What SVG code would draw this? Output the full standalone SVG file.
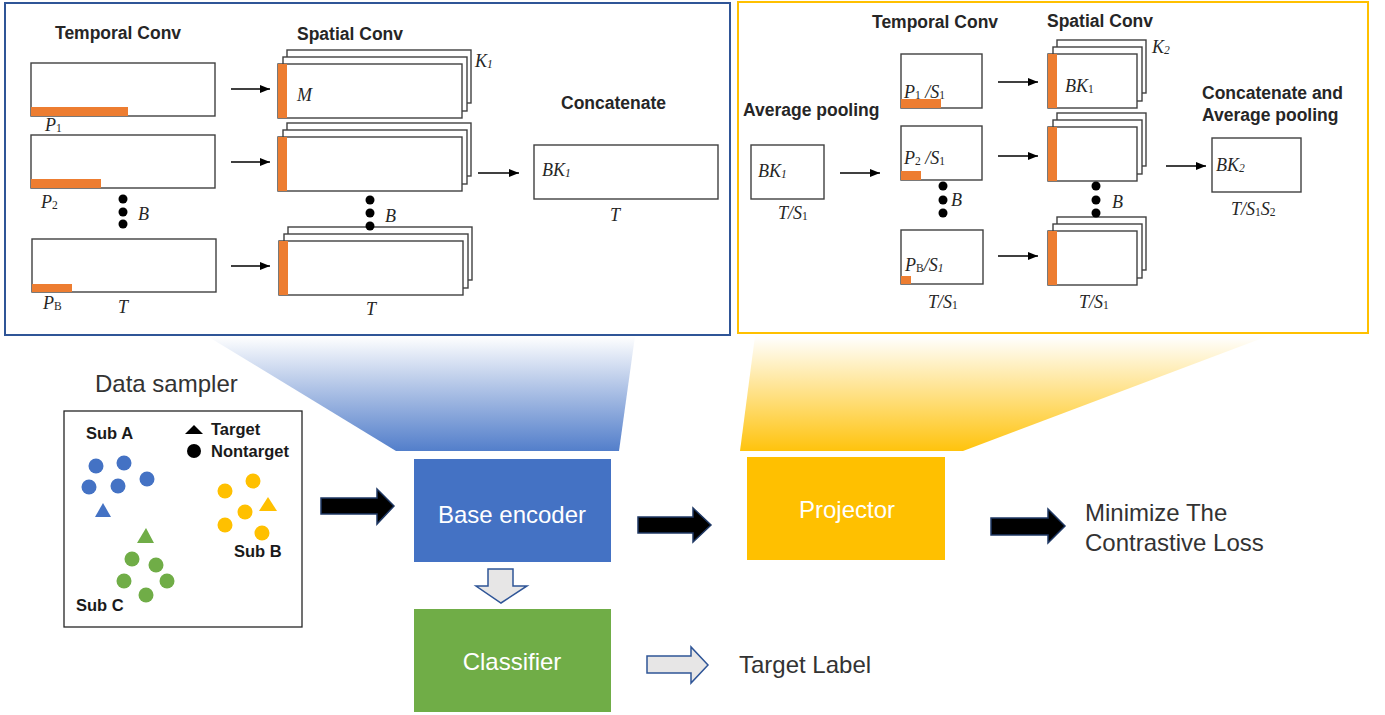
<svg xmlns="http://www.w3.org/2000/svg" width="1385" height="715" viewBox="0 0 1385 715">
<style>
.box{fill:#fff;stroke:#404040;stroke-width:1.4}
.or{fill:#ED7D31}
.ttl{font-family:"Liberation Sans",Arial,sans-serif;font-weight:bold;font-size:17.5px;fill:#262626}
.m{font-family:"Liberation Serif","Times New Roman",serif;font-style:italic;font-size:18px;fill:#262626}
.s{font-size:11.5px;font-style:normal}
.si{font-size:11.5px}
.lbl{font-family:"Liberation Sans",Arial,sans-serif;font-size:24px;fill:#333}
.wt{font-family:"Liberation Sans",Arial,sans-serif;font-size:24px;fill:#fff;text-anchor:middle}
.sub{font-family:"Liberation Sans",Arial,sans-serif;font-weight:bold;font-size:16.5px;fill:#1a1a1a}
.ln{stroke:#000;stroke-width:1.3;fill:none;marker-end:url(#ah)}
.dot{fill:#000}
.blk{fill:#000;stroke:#1F3864;stroke-width:1.5;stroke-linejoin:miter}
.hol{fill:#E7E6E6;stroke:#2F5597;stroke-width:1.5;stroke-linejoin:miter}
</style>
<defs>
<marker id="ah" markerUnits="userSpaceOnUse" markerWidth="10" markerHeight="8" refX="10" refY="4" orient="auto">
<path d="M0,0 L10,4 L0,8 z" fill="#000"/>
</marker>
<linearGradient id="gb" x1="0" y1="0" x2="0" y2="1">
<stop offset="0" stop-color="#4472C4" stop-opacity="0"/>
<stop offset="1" stop-color="#4A78C8" stop-opacity="0.95"/>
</linearGradient>
<linearGradient id="gy" x1="0" y1="0" x2="0" y2="1">
<stop offset="0" stop-color="#FFC000" stop-opacity="0"/>
<stop offset="1" stop-color="#FFC000" stop-opacity="0.95"/>
</linearGradient>
</defs>

<!-- zoom wedges linking the encoder/projector to their detail panels -->
<polygon id="wedge-encoder" points="207,336 635,336 619,451 396,451" fill="url(#gb)"/>
<polygon id="wedge-projector" points="755,336 1268,336 963,451 740,451" fill="url(#gy)"/>

<!-- base encoder detail -->
<g id="encoder-panel">
<rect x="5" y="3" width="725" height="332" fill="#fff" stroke="#2F5597" stroke-width="2"/>
<text class="ttl" x="55" y="39">Temporal Conv</text>
<text class="ttl" x="297" y="40">Spatial Conv</text>
<text class="ttl" x="561" y="109">Concatenate</text>

<g id="tconv-1">
<rect class="box" x="31" y="63" width="184" height="53"/>
<rect class="or" x="31" y="107" width="97" height="9"/>
<text class="m" x="45" y="131">P<tspan class="s" dy="1">1</tspan></text>
</g>
<g id="tconv-2">
<rect class="box" x="31" y="135" width="184" height="53"/>
<rect class="or" x="31" y="179" width="70" height="9"/>
<text class="m" x="41" y="208">P<tspan class="s" dy="1">2</tspan></text>
</g>
<g id="tconv-b">
<rect class="box" x="32" y="239" width="184" height="53"/>
<rect class="or" x="32" y="284" width="40" height="8"/>
<text class="m" x="43" y="309">P<tspan class="s" dy="1">B</tspan></text>
<text class="m" x="118" y="313">T</text>
</g>
<circle class="dot" cx="123" cy="199" r="4.5"/>
<circle class="dot" cx="123" cy="212" r="4.5"/>
<circle class="dot" cx="123" cy="224" r="4.5"/>
<text class="m" x="138" y="220">B</text>

<g id="sconv-1">
<rect class="box" x="287" y="50" width="184" height="53"/>
<rect class="box" x="283" y="57" width="184" height="54"/>
<rect class="box" x="278" y="64" width="184" height="54"/>
<rect class="or" x="278" y="64" width="9" height="54"/>
<text class="m" x="297" y="101">M</text>
<text class="m" x="475" y="67">K<tspan class="si" dy="1">1</tspan></text>
</g>
<g id="sconv-2">
<rect class="box" x="287" y="123" width="184" height="53"/>
<rect class="box" x="283" y="130" width="184" height="54"/>
<rect class="box" x="278" y="137" width="184" height="54"/>
<rect class="or" x="278" y="137" width="9" height="54"/>
</g>
<g id="sconv-b">
<rect class="box" x="288" y="227" width="184" height="53"/>
<rect class="box" x="284" y="234" width="184" height="54"/>
<rect class="box" x="279" y="241" width="184" height="54"/>
<rect class="or" x="279" y="241" width="9" height="54"/>
<text class="m" x="366" y="315">T</text>
</g>
<circle class="dot" cx="370" cy="200" r="4.5"/>
<circle class="dot" cx="370" cy="213" r="4.5"/>
<circle class="dot" cx="370" cy="226" r="4.5"/>
<text class="m" x="385" y="222">B</text>

<g id="concat-1">
<rect class="box" x="534" y="145" width="184" height="54"/>
<text class="m" x="542" y="176">BK<tspan class="si" dy="1">1</tspan></text>
<text class="m" x="610" y="221">T</text>
</g>
</g>

<!-- projector detail -->
<g id="projector-panel">
<rect x="738" y="2" width="630" height="331" fill="#fff" stroke="#FFC000" stroke-width="2"/>
<text class="ttl" x="872" y="28">Temporal Conv</text>
<text class="ttl" x="1047" y="27">Spatial Conv</text>
<text class="ttl" x="743" y="116">Average pooling</text>
<text class="ttl" x="1202" y="99">Concatenate and</text>
<text class="ttl" x="1202" y="121">Average pooling</text>

<g id="pool-in">
<rect class="box" x="751" y="145" width="73" height="54"/>
<text class="m" x="758" y="177">BK<tspan class="si" dy="1">1</tspan></text>
<text class="m" x="778" y="219">T/S<tspan class="s" dy="1">1</tspan></text>
</g>

<g id="ptconv-1">
<rect class="box" x="901" y="54" width="81" height="54"/>
<rect class="or" x="901" y="99" width="40" height="9"/>
<text class="m" x="904" y="98">P<tspan class="s" dy="1">1</tspan><tspan dy="-1"> /S</tspan><tspan class="s" dy="1">1</tspan></text>
</g>
<g id="ptconv-2">
<rect class="box" x="901" y="126" width="81" height="54"/>
<rect class="or" x="901" y="171" width="20" height="9"/>
<text class="m" x="904" y="164">P<tspan class="s" dy="1">2</tspan><tspan dy="-1"> /S</tspan><tspan class="s" dy="1">1</tspan></text>
</g>
<g id="ptconv-b">
<rect class="box" x="901" y="230" width="82" height="54"/>
<rect class="or" x="901" y="276" width="10" height="8"/>
<text class="m" x="905" y="271">P<tspan class="s" dy="1">B</tspan><tspan dy="-1">/S</tspan><tspan class="si" dy="1">1</tspan></text>
<text class="m" x="928" y="308">T/S<tspan class="s" dy="1">1</tspan></text>
</g>
<circle class="dot" cx="943" cy="186" r="4.5"/>
<circle class="dot" cx="943" cy="200" r="4.5"/>
<circle class="dot" cx="943" cy="213" r="4.5"/>
<text class="m" x="951" y="206">B</text>

<g id="psconv-1">
<rect class="box" x="1057" y="40" width="89" height="53"/>
<rect class="box" x="1053" y="47" width="89" height="54"/>
<rect class="box" x="1048" y="54" width="89" height="54"/>
<rect class="or" x="1048" y="54" width="9" height="54"/>
<text class="m" x="1065" y="92">BK<tspan class="s" dy="1">1</tspan></text>
<text class="m" x="1152" y="53">K<tspan class="si" dy="1">2</tspan></text>
</g>
<g id="psconv-2">
<rect class="box" x="1057" y="113" width="89" height="53"/>
<rect class="box" x="1053" y="120" width="89" height="54"/>
<rect class="box" x="1048" y="127" width="89" height="54"/>
<rect class="or" x="1048" y="127" width="9" height="54"/>
</g>
<g id="psconv-b">
<rect class="box" x="1057" y="217" width="89" height="53"/>
<rect class="box" x="1053" y="224" width="89" height="54"/>
<rect class="box" x="1048" y="231" width="89" height="54"/>
<rect class="or" x="1048" y="231" width="9" height="54"/>
<text class="m" x="1079" y="308">T/S<tspan class="s" dy="1">1</tspan></text>
</g>
<circle class="dot" cx="1096" cy="186" r="4.5"/>
<circle class="dot" cx="1096" cy="200" r="4.5"/>
<circle class="dot" cx="1096" cy="213" r="4.5"/>
<text class="m" x="1112" y="208">B</text>

<g id="concat-2">
<rect class="box" x="1212" y="138" width="89" height="54"/>
<text class="m" x="1216" y="171">BK<tspan class="si" dy="1">2</tspan></text>
<text class="m" x="1231" y="215">T/S<tspan class="s" dy="1">1</tspan><tspan dy="-1">S</tspan><tspan class="s" dy="1">2</tspan></text>
</g>
</g>

<!-- data sampler -->
<g id="data-sampler">
<text class="lbl" x="95" y="392">Data sampler</text>
<rect x="64" y="411" width="238" height="216" fill="#fff" stroke="#262626" stroke-width="1.3"/>
<text class="sub" x="86" y="439">Sub A</text>
<text class="sub" x="234" y="557">Sub B</text>
<text class="sub" x="76" y="611">Sub C</text>
<polygon points="194,425 203,434 185,434" fill="#000"/>
<circle cx="194" cy="451" r="7" fill="#000"/>
<text class="sub" x="211" y="435">Target</text>
<text class="sub" x="211" y="457">Nontarget</text>
<g fill="#4472C4">
<circle cx="96" cy="466" r="7.5"/><circle cx="124" cy="463" r="7.5"/><circle cx="147" cy="479" r="7.5"/>
<circle cx="89" cy="487" r="7.5"/><circle cx="118" cy="486" r="7.5"/>
<polygon points="103,503 111,517 95,517"/>
</g>
<g fill="#FFC000">
<circle cx="253" cy="481" r="7.5"/><circle cx="225" cy="491" r="7.5"/><circle cx="245" cy="512" r="7.5"/>
<circle cx="225" cy="525" r="7.5"/><circle cx="262" cy="533" r="7.5"/>
<polygon points="268,497 277,511 259,511"/>
</g>
<g fill="#70AD47">
<circle cx="132" cy="559" r="7.5"/><circle cx="156" cy="565" r="7.5"/><circle cx="124" cy="581" r="7.5"/>
<circle cx="167" cy="581" r="7.5"/><circle cx="146" cy="595" r="7.5"/>
<polygon points="146,528 154,543 137,543"/>
</g>
</g>

<g id="base-encoder">
<rect x="414" y="459" width="197" height="103" fill="#4472C4"/>
<text class="wt" x="512" y="523">Base encoder</text>
</g>
<g id="classifier">
<rect x="414" y="609" width="197" height="103" fill="#70AD47"/>
<text class="wt" x="512" y="670">Classifier</text>
</g>
<g id="projector">
<rect x="747" y="457" width="198" height="103" fill="#FFC000"/>
<text class="wt" x="847" y="518">Projector</text>
</g>
<g id="loss">
<text class="lbl" x="1085" y="521">Minimize The</text>
<text class="lbl" x="1085" y="551">Contrastive Loss</text>
</g>
<g id="target-label">
<text class="lbl" x="739" y="673">Target Label</text>
</g>

<g id="connectors">
<line class="ln" x1="231" y1="89" x2="270" y2="89"/>
<line class="ln" x1="231" y1="162" x2="270" y2="162"/>
<line class="ln" x1="231" y1="266" x2="270" y2="266"/>
<line class="ln" x1="478" y1="173" x2="519" y2="173"/>
<line class="ln" x1="840" y1="173" x2="880" y2="173"/>
<line class="ln" x1="998" y1="82" x2="1038" y2="82"/>
<line class="ln" x1="998" y1="156" x2="1038" y2="156"/>
<line class="ln" x1="998" y1="256" x2="1038" y2="256"/>
<line class="ln" x1="1166" y1="166" x2="1206" y2="166"/>
<polygon class="blk" points="321,498 377,498 377,489 394,506 377,524 377,514 321,514"/>
<polygon class="blk" points="638,517 693,517 693,508 711,525 693,542 693,533 638,533"/>
<polygon class="blk" points="991,518 1048,518 1048,509 1065,526 1048,543 1048,535 991,535"/>
<polygon class="hol" points="488,569 513,569 513,586 527,586 501,603 476,586 488,586"/>
<polygon class="hol" points="647,656 691,656 691,647 708,665 691,683 691,673 647,673"/>
</g>
</svg>
